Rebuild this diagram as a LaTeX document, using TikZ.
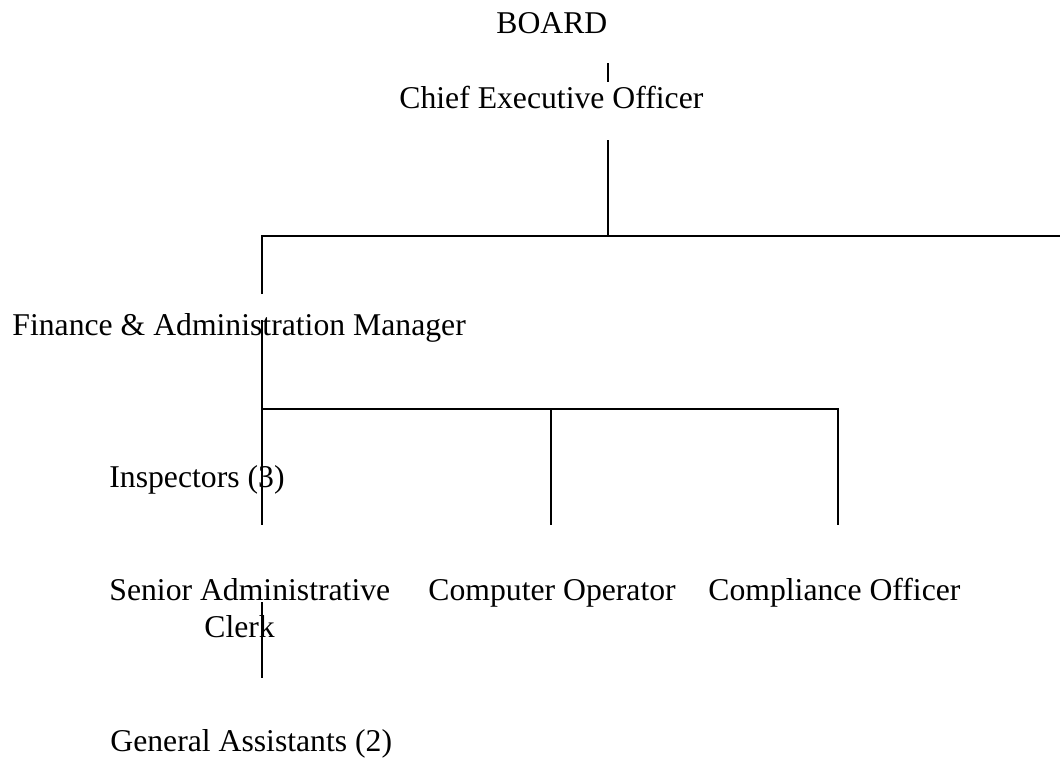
\documentclass[tikz,border=0pt]{standalone}
\usepackage{fontspec}
\setmainfont{Liberation Serif}
\usepackage{tikz}
\usetikzlibrary{positioning}

\begin{document}
\begin{tikzpicture}[x=0.5pt,y=-0.5pt,
    post/.style={inner sep=0pt,anchor=base west,align=left,
      font=\fontsize{15.85}{18.5}\selectfont},
    link/.style={line width=0.9pt}]
  \useasboundingbox (0,0) rectangle (1060,760);

  % posts, placed by baseline (last line for the two-line one)
  \node[post] (board) at (496,33) {BOARD};
  \node[post] (ceo) at (399,108) {Chief Executive Officer};
  \node[post] (finance) at (12,335) {Finance \& Administration Manager};
  \node[post] (inspectors) at (109,487) {Inspectors (3)};
  \node[post] (seniorclerk) at (109,637)
    {Senior Administrative\\\hspace{47.5pt}Clerk};
  \node[post] (operator) at (428,600) {Computer Operator};
  \node[post] (compliance) at (708,600) {Compliance Officer};
  \node[post] (assistants) at (110,751) {General Assistants (2)};

  % line ends and junctions
  \coordinate (boardtail) at (608,63);
  \coordinate (ceohead) at (608,82);
  \coordinate (ceotail) at (608,140);
  \coordinate (ceojoin) at (608,236);
  \coordinate (topleft) at (262,236);
  \coordinate (topright) at (1060,236);
  \coordinate (financehead) at (262,294);
  \coordinate (financetail) at (262,320);
  \coordinate (staffleft) at (262,409);
  \coordinate (staffmid) at (551,409);
  \coordinate (staffright) at (838,409);
  \coordinate (inspectortail) at (262,525);
  \coordinate (operatorhead) at (551,525);
  \coordinate (compliancehead) at (838,525);
  \coordinate (clerktail) at (262,602);
  \coordinate (assistanthead) at (262,678);

  \draw[link] (boardtail) -- (ceohead);
  \draw[link] (ceotail) -- (ceojoin);
  \draw[link] (financehead) -- (topleft) -- (topright);
  \draw[link] (financetail) -- (staffleft) -- (inspectortail);
  \draw[link] (staffleft) -- (staffmid) -- (staffright) -- (compliancehead);
  \draw[link] (staffmid) -- (operatorhead);
  \draw[link] (clerktail) -- (assistanthead);
\end{tikzpicture}
\end{document}
